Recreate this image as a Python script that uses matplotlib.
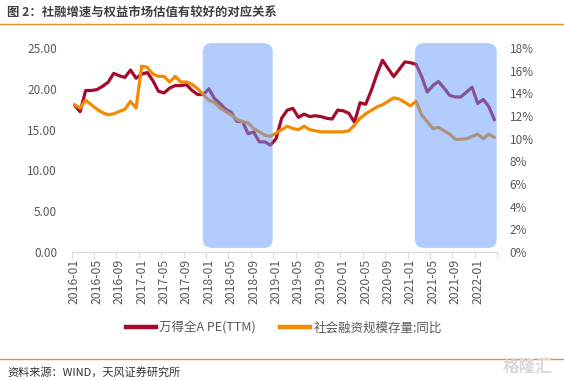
import matplotlib
matplotlib.use('Agg')
import matplotlib.pyplot as plt
from matplotlib.patches import FancyBboxPatch
from matplotlib.lines import Line2D
import pandas as pd

plt.rcParams['font.family'] = ['Noto Sans CJK SC', 'DejaVu Sans']

# 月度类目 2016-01 ~ 2022-04
months = pd.date_range('2016-01', periods=76, freq='MS').strftime('%Y-%m').tolist()

# 万得全A PE(TTM)
pe = [18.0, 17.2, 19.8, 19.8, 19.9, 20.3, 20.8, 21.9, 21.6, 21.4,
      22.3, 21.3, 21.8, 22.0, 21.0, 19.7, 19.5, 20.1, 20.4, 20.4,
      20.5, 19.8, 19.3, 19.3, 20.0, 18.8, 18.2, 17.5, 17.1, 16.0,
      16.0, 14.5, 14.7, 13.5, 13.5, 13.1, 13.9, 16.4, 17.4, 17.6,
      16.5, 16.9, 16.6, 16.7, 16.6, 16.4, 16.3, 17.4, 17.3, 17.0,
      15.9, 18.3, 18.1, 19.8, 21.8, 23.5, 22.5, 21.5, 22.4, 23.3,
      23.2, 23.0, 21.5, 19.6, 20.4, 20.9, 20.1, 19.2, 19.0, 19.0,
      19.6, 20.2, 18.2, 18.7, 17.8, 16.2]

# 社会融资规模存量:同比 (%)
tsf = [13.0, 12.7, 13.4, 13.0, 12.6, 12.3, 12.1, 12.2, 12.4, 12.6,
       13.3, 12.7, 16.4, 16.3, 15.7, 15.5, 15.5, 15.0, 15.5, 15.0,
       15.0, 14.8, 14.4, 13.9, 13.4, 13.2, 12.7, 12.4, 12.1, 11.7,
       11.5, 11.4, 10.9, 10.6, 10.3, 10.2, 10.5, 10.8, 11.1, 10.9,
       10.8, 11.1, 10.8, 10.7, 10.6, 10.6, 10.6, 10.6, 10.6, 10.7,
       11.2, 11.8, 12.2, 12.5, 12.8, 13.0, 13.3, 13.6, 13.5, 13.2,
       12.9, 13.3, 12.1, 11.5, 10.9, 11.0, 10.7, 10.4, 9.95, 9.95,
       10.0, 10.2, 10.4, 10.0, 10.4, 10.1]

# 阴影区间(类目位置)
shade_spans = [(22.9, 35.4), (60.8, 75.4)]

red = '#A50A2D'
orange = '#F38A00'
gray = '#595959'

fig = plt.figure(figsize=(5.64, 3.8), dpi=100)
ax = fig.add_axes([0.1271, 0.3368, 0.7546, 0.5368])
ax2 = ax.twinx()

x = list(range(len(months)))
ax.plot(x, pe, color=red, lw=2.3, solid_joinstyle='round', solid_capstyle='round')
ax2.plot(x, tsf, color=orange, lw=2.3, solid_joinstyle='round', solid_capstyle='round')

ax.set_xlim(-0.5, len(months) - 0.5)
ax.set_ylim(0, 25)
ax2.set_ylim(0, 18)

ax.set_yticks(range(0, 26, 5))
ax.set_yticklabels(['%.2f' % v for v in range(0, 26, 5)])
ax2.set_yticks(range(0, 19, 2))
ax2.set_yticklabels(['%d%%' % v for v in range(0, 19, 2)])

for a in (ax, ax2):
    for s in ('top', 'left', 'right'):
        a.spines[s].set_visible(False)
    a.spines['bottom'].set_color('#D9D9D9')
ax.tick_params(axis='y', length=0, labelcolor=gray, labelsize=8.5, pad=10.5)
ax2.tick_params(axis='y', length=0, labelcolor=gray, labelsize=8.5, pad=9)

# x轴: 刻度线在类目边界, 标签每4个月
ax.set_xticks([b - 0.5 for b in range(0, len(months) + 1, 4)])
ax.set_xticklabels([])
ax.tick_params(axis='x', which='major', length=4, color='#D9D9D9')
ax.set_xticks(x[::4], minor=True)
ax.set_xticklabels(months[::4], minor=True, rotation=90)
ax.tick_params(axis='x', which='minor', length=0, labelcolor=gray, labelsize=8.8, pad=5)

# 圆角阴影
px_x = ax.transData.transform((1, 0))[0] - ax.transData.transform((0, 0))[0]
px_y = ax.transData.transform((0, 1))[1] - ax.transData.transform((0, 0))[1]
r_px = 9
for x0, x1 in shade_spans:
    box = FancyBboxPatch((x0, 0.5), x1 - x0, 25.1,
                         boxstyle='round,pad=0,rounding_size=%f' % (r_px / px_x),
                         mutation_aspect=px_x / px_y,
                         transform=ax.transData, facecolor='#679DFD', edgecolor='none',
                         alpha=0.5, zorder=3, clip_on=False)
    ax2.add_patch(box)

handles = [Line2D([], [], color=red, lw=3.2), Line2D([], [], color=orange, lw=3.2)]
fig.legend(handles, ['万得全A PE(TTM)', '社会融资规模存量:同比'], loc='center',
           bbox_to_anchor=(0.503, 1 - 328 / 380), ncol=2, frameon=False,
           fontsize=9, handlelength=2.4, handletextpad=0.25, columnspacing=2.0,
           labelcolor=gray)

fig.text(7 / 564, 1 - 13 / 380, '图 2：社融增速与权益市场估值有较好的对应关系',
         fontsize=8.9, fontweight='bold', color='#404040', va='center')
fig.add_artist(Line2D([0, 1], [1 - 24 / 380, 1 - 24 / 380], color='#F08A24', lw=1))
fig.add_artist(Line2D([0, 1], [1 - 359 / 380, 1 - 359 / 380], color='#F08A24', lw=1))
fig.text(7 / 564, 1 - 372 / 380, '资料来源：WIND，天风证券研究所',
         fontsize=8, color='#333333', va='center')
fig.text(0.935, 1 - 367 / 380, '格隆汇', fontsize=12, fontweight='bold',
         color='#D9D9D9', va='center', ha='center')

fig.savefig('out.png', dpi=100)
